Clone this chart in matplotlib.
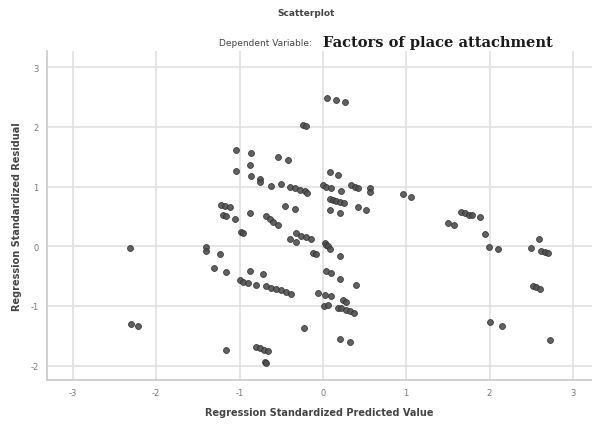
import matplotlib
matplotlib.use("Agg")
import matplotlib.pyplot as plt

# Regression standardized predicted value (x) and residual (y)
pred = [
    0.05, 0.16, 0.26, -0.24, -0.20,
    -1.04, -0.86, -0.54, -0.42, -0.87, -1.04, -0.86, -0.76, -0.75, -0.62, -0.50,
    -0.40, -0.34, -0.28, -0.22, -0.19,
    -1.22, -1.18, -1.11, -1.20, -1.16, -1.06, -0.88, -0.46, -0.34,
    -0.68, -0.64, -0.60, -0.54,
    0.08, 0.18, 0.00, 0.04, 0.10, 0.22, 0.34, 0.38, 0.42, 0.56, 0.56,
    0.08, 0.12, 0.16, 0.20, 0.25, 0.42, 0.52, 0.08, 0.20,
    -0.98, -0.96, -0.32, -0.26, -0.20, -0.14, -0.40, -0.32, 0.02, 0.04, -1.40,
    0.06, 0.08, -0.12, -0.08, 0.21, -1.40, -1.24, -1.31, -1.16, -0.87, -0.72,
    -1.00, -0.96, -0.90, -0.80, -0.68, -0.62, -0.56, -0.50, -0.44, -0.38,
    0.04, 0.10, 0.20, 0.40, -0.06, 0.02, 0.10, 0.24, 0.28, 0.01, 0.06,
    0.18, 0.22, 0.28, 0.32, 0.37, -0.23, 0.20, 0.32, -1.16,
    -0.80, -0.76, -0.71, -0.66, -0.70, -0.68,
    -2.32, -2.30, -2.22,
    0.96, 1.06, 1.66, 1.70, 1.75, 1.79, 1.89, 1.50, 1.57,
    1.95, 1.99, 2.10, 2.59, 2.50, 2.62, 2.66, 2.70, 2.52, 2.56, 2.61,
    2.00, 2.15, 2.73,
]
resid = [
    2.48, 2.45, 2.41, 2.04, 2.02,
    1.62, 1.56, 1.50, 1.45, 1.37, 1.26, 1.18, 1.13, 1.08, 1.01, 1.04,
    1.00, 0.98, 0.95, 0.93, 0.90,
    0.70, 0.68, 0.65, 0.52, 0.50, 0.45, 0.55, 0.68, 0.63,
    0.51, 0.45, 0.40, 0.35,
    1.24, 1.19, 1.02, 1.00, 0.98, 0.93, 1.02, 1.00, 0.98, 0.97, 0.91,
    0.80, 0.78, 0.76, 0.74, 0.72, 0.65, 0.61, 0.61, 0.55,
    0.24, 0.22, 0.22, 0.18, 0.16, 0.13, 0.12, 0.08, 0.06, 0.02, -0.02,
    0.00, -0.04, -0.12, -0.13, -0.16, -0.08, -0.13, -0.37, -0.43, -0.41, -0.47,
    -0.56, -0.59, -0.61, -0.65, -0.66, -0.70, -0.72, -0.74, -0.77, -0.80,
    -0.41, -0.44, -0.55, -0.64, -0.78, -0.82, -0.84, -0.90, -0.93, -1.00, -0.99,
    -1.03, -1.04, -1.07, -1.09, -1.11, -1.37, -1.56, -1.61, -1.73,
    -1.68, -1.70, -1.73, -1.75, -1.94, -1.96,
    -0.03, -1.30, -1.33,
    0.87, 0.83, 0.57, 0.55, 0.53, 0.52, 0.49, 0.39, 0.35,
    0.20, -0.01, -0.05, 0.12, -0.03, -0.08, -0.10, -0.12, -0.66, -0.69, -0.71,
    -1.27, -1.33, -1.57,
]

x_ticks = [-3, -2, -1, 0, 1, 2, 3]
y_ticks = [-2, -1, 0, 1, 2, 3]

fig = plt.figure(figsize=(5.92, 4.27), dpi=100)
ax = fig.add_axes([0.0794, 0.1077, 0.9206, 0.7703])

ax.scatter(pred, resid, s=18, color="#505050", edgecolors="#303030",
           linewidths=0.6, alpha=0.9, zorder=3)

ax.set_xlim(-3.31, 3.23)
ax.set_ylim(-2.24, 3.27)
ax.set_xticks(x_ticks)
ax.set_yticks(y_ticks)
ax.set_xticklabels([str(v) for v in x_ticks])
ax.set_yticklabels([str(v) for v in y_ticks])
ax.tick_params(length=0, labelsize=6, labelcolor="#777777", pad=6)
ax.grid(True, color="#e0e0e0", linewidth=1.2, zorder=0)
ax.set_axisbelow(True)
for s in ["top", "right"]:
    ax.spines[s].set_visible(False)
for s in ["left", "bottom"]:
    ax.spines[s].set_color("#c8c8c8")
    ax.spines[s].set_linewidth(1.2)

ax.set_xlabel("Regression Standardized Predicted Value", fontsize=7,
              fontweight="bold", color="#444444", labelpad=7)
ax.set_ylabel("Regression Standardized Residual", fontsize=7,
              fontweight="bold", color="#444444", labelpad=6)

fig.text(0.517, 0.968, "Scatterplot", ha="center", va="center",
         fontsize=6.5, fontweight="bold", color="#444444")
fig.text(0.527, 0.899, "Dependent Variable:", ha="right", va="center",
         fontsize=6.5, color="#444444")
fig.text(0.545, 0.899, "Factors of place attachment", ha="left", va="center",
         fontsize=10.5, fontweight="bold", color="#1a1a1a",
         family=["DejaVu Serif"])

fig.savefig("out.png", dpi=100)
